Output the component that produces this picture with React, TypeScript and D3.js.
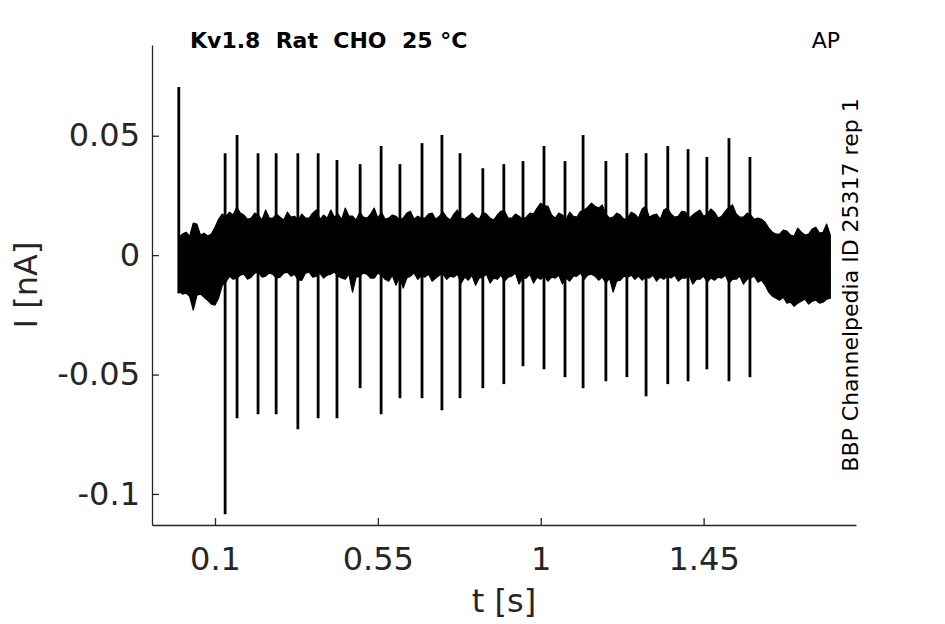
import React, { useRef, useEffect } from 'react';
import * as d3 from 'd3';

// noise band envelope of the recorded trace (t in s, current in nA), read every 10 ms
const bandTime = [
  0.0, 0.01, 0.02, 0.03, 0.04, 0.05, 0.06, 0.07, 0.08, 0.09,
  0.1, 0.11, 0.12, 0.13, 0.14, 0.15, 0.16, 0.17, 0.18, 0.19,
  0.2, 0.21, 0.22, 0.23, 0.24, 0.25, 0.26, 0.27, 0.28, 0.29,
  0.3, 0.31, 0.32, 0.33, 0.34, 0.35, 0.36, 0.37, 0.38, 0.39,
  0.4, 0.41, 0.42, 0.43, 0.44, 0.45, 0.46, 0.47, 0.48, 0.49,
  0.5, 0.51, 0.52, 0.53, 0.54, 0.55, 0.56, 0.57, 0.58, 0.59,
  0.6, 0.61, 0.62, 0.63, 0.64, 0.65, 0.66, 0.67, 0.68, 0.69,
  0.7, 0.71, 0.72, 0.73, 0.74, 0.75, 0.76, 0.77, 0.78, 0.79,
  0.8, 0.81, 0.82, 0.83, 0.84, 0.85, 0.86, 0.87, 0.88, 0.89,
  0.9, 0.91, 0.92, 0.93, 0.94, 0.95, 0.96, 0.97, 0.98, 0.99,
  1.0, 1.01, 1.02, 1.03, 1.04, 1.05, 1.06, 1.07, 1.08, 1.09,
  1.1, 1.11, 1.12, 1.13, 1.14, 1.15, 1.16, 1.17, 1.18, 1.19,
  1.2, 1.21, 1.22, 1.23, 1.24, 1.25, 1.26, 1.27, 1.28, 1.29,
  1.3, 1.31, 1.32, 1.33, 1.34, 1.35, 1.36, 1.37, 1.38, 1.39,
  1.4, 1.41, 1.42, 1.43, 1.44, 1.45, 1.46, 1.47, 1.48, 1.49,
  1.5, 1.51, 1.52, 1.53, 1.54, 1.55, 1.56, 1.57, 1.58, 1.59,
  1.6, 1.61, 1.62, 1.63, 1.64, 1.65, 1.66, 1.67, 1.68, 1.69,
  1.7, 1.71, 1.72, 1.73, 1.74, 1.75, 1.76, 1.77, 1.78, 1.79,
  1.8,
];
const bandUpper = [
  0.0075, 0.0088, 0.0096, 0.008, 0.0134, 0.013, 0.0084, 0.0092, 0.008, 0.0088,
  0.0117, 0.015, 0.0172, 0.016, 0.018, 0.0168, 0.0201, 0.0176, 0.0168, 0.015,
  0.0155, 0.0176, 0.0168, 0.0147, 0.0189, 0.0155, 0.0155, 0.0172, 0.0159, 0.0147,
  0.018, 0.0159, 0.0163, 0.0147, 0.0172, 0.0155, 0.0155, 0.0176, 0.0189, 0.015,
  0.0168, 0.0155, 0.0189, 0.0159, 0.0172, 0.015, 0.0197, 0.0163, 0.0163, 0.0147,
  0.018, 0.0159, 0.0155, 0.0172, 0.0197, 0.0155, 0.018, 0.015, 0.0155, 0.0168,
  0.0163, 0.0147, 0.0155, 0.0176, 0.0184, 0.015, 0.0163, 0.0155, 0.0155, 0.0172,
  0.0176, 0.015, 0.0163, 0.018, 0.0159, 0.0147, 0.0172, 0.0189, 0.0155, 0.015,
  0.0163, 0.0176, 0.0159, 0.015, 0.018, 0.0172, 0.0155, 0.0147, 0.0168, 0.0184,
  0.0184, 0.0155, 0.0155, 0.0172, 0.0163, 0.015, 0.0159, 0.0176, 0.0172, 0.0197,
  0.0218, 0.0205, 0.0205, 0.0168, 0.0155, 0.0176, 0.0168, 0.015, 0.018, 0.0163,
  0.0159, 0.0184, 0.0189, 0.0201, 0.0218, 0.0205, 0.0197, 0.021, 0.0172, 0.0155,
  0.0159, 0.0176, 0.0168, 0.015, 0.0155, 0.018, 0.0172, 0.0155, 0.0193, 0.0205,
  0.0159, 0.0168, 0.0172, 0.015, 0.0189, 0.0197, 0.0172, 0.0159, 0.0163, 0.0184,
  0.018, 0.0155, 0.0168, 0.018, 0.0189, 0.0163, 0.0172, 0.0193, 0.018, 0.0155,
  0.0163, 0.0184, 0.0201, 0.021, 0.0172, 0.0159, 0.0159, 0.0176, 0.0168, 0.015,
  0.0155, 0.015, 0.0138, 0.0113, 0.0096, 0.0088, 0.0088, 0.0105, 0.0101, 0.0084,
  0.008, 0.0113, 0.0096, 0.0084, 0.0088, 0.0109, 0.0117, 0.0092, 0.0096, 0.013,
  0.0084,
];
const bandLower = [
  -0.015, -0.0163, -0.0159, -0.0172, -0.023, -0.0168, -0.0163, -0.0176, -0.0189, -0.0205,
  -0.0209, -0.018, -0.0126, -0.0113, -0.0088, -0.0101, -0.0096, -0.0084, -0.008, -0.0101,
  -0.0092, -0.0075, -0.0071, -0.0092, -0.0088, -0.0075, -0.008, -0.0096, -0.0092, -0.0075,
  -0.0071, -0.0088, -0.008, -0.0105, -0.0105, -0.0075, -0.0071, -0.0092, -0.0088, -0.0075,
  -0.0096, -0.0084, -0.008, -0.0071, -0.0088, -0.0096, -0.0101, -0.008, -0.0155, -0.0092,
  -0.0088, -0.0075, -0.008, -0.0096, -0.0096, -0.0075, -0.0084, -0.0101, -0.0109, -0.0084,
  -0.0126, -0.0092, -0.0138, -0.0096, -0.0088, -0.0075, -0.0101, -0.0088, -0.0092, -0.008,
  -0.0109, -0.0096, -0.0084, -0.008, -0.0101, -0.0088, -0.0092, -0.008, -0.0117, -0.0092,
  -0.0105, -0.0084, -0.0126, -0.0096, -0.0092, -0.008, -0.0117, -0.0096, -0.0101, -0.0084,
  -0.0109, -0.0092, -0.0088, -0.0075, -0.0121, -0.0096, -0.0096, -0.008, -0.0117, -0.0092,
  -0.0101, -0.0088, -0.0109, -0.0092, -0.0096, -0.0084, -0.0121, -0.0096, -0.0109, -0.0088,
  -0.0088, -0.0075, -0.0101, -0.0084, -0.008, -0.0088, -0.0105, -0.0092, -0.0117, -0.0096,
  -0.0155, -0.0109, -0.0105, -0.0088, -0.0092, -0.0084, -0.0101, -0.0088, -0.0105, -0.0092,
  -0.0096, -0.0084, -0.0109, -0.0092, -0.0101, -0.0088, -0.0096, -0.0084, -0.0109, -0.0096,
  -0.0096, -0.0084, -0.0121, -0.0101, -0.0101, -0.0088, -0.0113, -0.0096, -0.0105, -0.0092,
  -0.0096, -0.0084, -0.0117, -0.0101, -0.0101, -0.0088, -0.0121, -0.0101, -0.0096, -0.0088,
  -0.0113, -0.0105, -0.0126, -0.0155, -0.0172, -0.018, -0.0189, -0.0176, -0.0201, -0.0197,
  -0.0214, -0.0201, -0.0193, -0.0184, -0.0205, -0.0193, -0.0189, -0.0201, -0.0197, -0.0184,
  -0.018,
];

// action-potential clamp artefacts: time, peak and trough
const spikeTime = [
  0.0, 0.128, 0.161, 0.219, 0.269, 0.329, 0.385, 0.437, 0.501, 0.559, 0.611, 0.672, 0.727, 0.777,
  0.84, 0.898, 0.951, 1.009, 1.067, 1.117, 1.18, 1.238, 1.291, 1.351, 1.407, 1.459, 1.52, 1.578,
];
const spikeMax = [
  0.0704, 0.0427, 0.0503, 0.0427, 0.0427, 0.0427, 0.0427, 0.0398, 0.0381, 0.0457, 0.0381, 0.0469, 0.0503, 0.0427,
  0.0364, 0.0381, 0.0394, 0.0457, 0.0394, 0.0503, 0.0394, 0.0427, 0.0427, 0.0457, 0.0444, 0.0411, 0.049, 0.0411,
];
const spikeMin = [
  -0.016, -0.1085, -0.0683, -0.0666, -0.0666, -0.0729, -0.0683, -0.0683, -0.0557, -0.0666, -0.0599, -0.0599, -0.0649, -0.0599,
  -0.0557, -0.054, -0.0465, -0.0478, -0.0511, -0.0557, -0.0528, -0.0511, -0.0591, -0.054, -0.0528, -0.0478, -0.0528, -0.0511,
];

const xTicks = [0.1, 0.55, 1, 1.45];
const xTickLabels = ['0.1', '0.55', '1', '1.45'];
const yTicks = [-0.1, -0.05, 0, 0.05];
const yTickLabels = ['-0.1', '-0.05', '0', '0.05'];

const TracePlot: React.FC = () => {
  const svgRef = useRef<SVGSVGElement | null>(null);

  useEffect(() => {
    if (!svgRef.current) return;
    const svg = d3.select(svgRef.current);
    svg.selectAll('*').remove();

    const width = 945;
    const height = 624;
    const margin = { top: 45, right: 89, bottom: 99, left: 152 };
    const axisColor = '#262626';
    const font = 'DejaVu Sans, sans-serif';

    const x = d3.scaleLinear()
      .domain([-0.074, 1.871])
      .range([margin.left, width - margin.right]);
    const y = d3.scaleLinear()
      .domain([-0.113, 0.088])
      .range([height - margin.bottom, margin.top]);

    const band = bandTime.map((t, i) => ({ t, hi: bandUpper[i], lo: bandLower[i] }));
    const area = d3.area<{ t: number; hi: number; lo: number }>()
      .x(d => x(d.t))
      .y0(d => y(d.lo))
      .y1(d => y(d.hi));

    svg.append('path')
      .datum(band)
      .attr('d', area)
      .attr('fill', '#000')
      .attr('stroke', '#000')
      .attr('stroke-width', 1.2)
      .attr('stroke-linejoin', 'round');

    svg.append('g')
      .selectAll('line')
      .data(spikeTime)
      .join('line')
      .attr('x1', d => x(d))
      .attr('x2', d => x(d))
      .attr('y1', (d, i) => y(spikeMax[i]))
      .attr('y2', (d, i) => y(spikeMin[i]))
      .attr('stroke', '#000')
      .attr('stroke-width', 2.8);

    // x axis (ticks point inward)
    const xAxis = svg.append('g')
      .attr('transform', `translate(0,${height - margin.bottom})`)
      .call(d3.axisBottom(x).tickValues(xTicks).tickSizeInner(-7).tickSizeOuter(0)
        .tickFormat((d, i) => xTickLabels[i]));
    xAxis.select('.domain').attr('stroke', axisColor).attr('stroke-width', 1.3);
    xAxis.selectAll('.tick line').attr('stroke', axisColor).attr('stroke-width', 1.3);
    xAxis.selectAll('.tick text')
      .attr('y', 45)
      .attr('dy', null)
      .attr('fill', axisColor)
      .style('font-family', font)
      .style('font-size', '32px');

    // y axis
    const yAxis = svg.append('g')
      .attr('transform', `translate(${margin.left},0)`)
      .call(d3.axisLeft(y).tickValues(yTicks).tickSizeInner(-7).tickSizeOuter(0)
        .tickFormat((d, i) => yTickLabels[i]));
    yAxis.select('.domain').attr('stroke', axisColor).attr('stroke-width', 1.3);
    yAxis.selectAll('.tick line').attr('stroke', axisColor).attr('stroke-width', 1.3);
    yAxis.selectAll('.tick text')
      .attr('x', -12)
      .attr('fill', axisColor)
      .style('font-family', font)
      .style('font-size', '32px');

    svg.append('text')
      .attr('x', (margin.left + width - margin.right) / 2)
      .attr('y', 612)
      .attr('text-anchor', 'middle')
      .attr('fill', axisColor)
      .style('font-family', font)
      .style('font-size', '32px')
      .text('t [s]');

    svg.append('text')
      .attr('transform', `translate(37,${(margin.top + height - margin.bottom) / 2}) rotate(-90)`)
      .attr('text-anchor', 'middle')
      .attr('fill', axisColor)
      .style('font-family', font)
      .style('font-size', '32px')
      .text('I [nA]');

    svg.append('text')
      .attr('x', 190)
      .attr('y', 48)
      .attr('fill', '#000')
      .style('font-family', font)
      .style('font-weight', 'bold')
      .style('font-size', '22px')
      .style('white-space', 'pre')
      .text('Kv1.8  Rat  CHO  25 °C');

    svg.append('text')
      .attr('x', 840)
      .attr('y', 48)
      .attr('text-anchor', 'end')
      .attr('fill', '#000')
      .style('font-family', font)
      .style('font-size', '22px')
      .text('AP');

    svg.append('text')
      .attr('transform', `translate(858,${(margin.top + height - margin.bottom) / 2}) rotate(-90)`)
      .attr('text-anchor', 'middle')
      .attr('fill', '#000')
      .style('font-family', font)
      .style('font-size', '22px')
      .text('BBP Channelpedia ID 25317 rep 1');
  }, []);

  return (
    <svg ref={svgRef} width={945} height={624}
      style={{ position: 'absolute', left: 0, top: 0, background: '#fff' }} />
  );
};

export default function App() {
  return <TracePlot />;
}
